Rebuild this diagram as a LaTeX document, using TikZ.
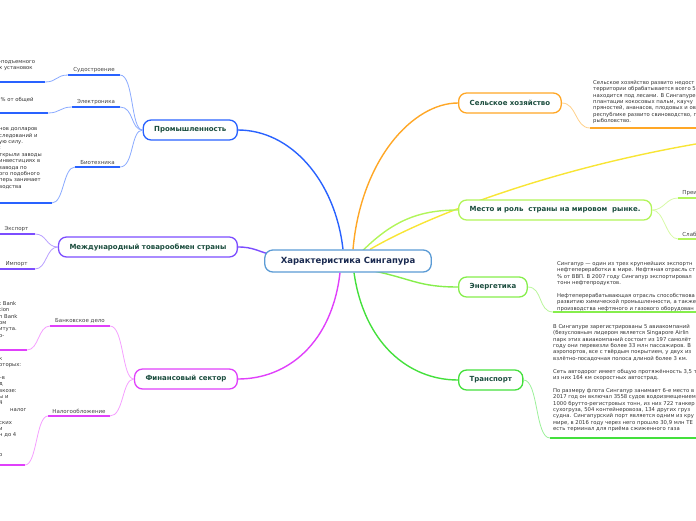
\documentclass[tikz,border=0pt]{standalone}
\usepackage{fontspec}
\setmainfont{DejaVu Sans}
\usetikzlibrary{positioning, calc, backgrounds}
\definecolor{rootblue}{HTML}{5B9BD5}
\definecolor{rootink}{HTML}{1A2A50}
\definecolor{topicink}{HTML}{1B4D3E}
\definecolor{leafgray}{HTML}{444444}
\definecolor{notegray}{HTML}{333333}
\definecolor{indblue}{HTML}{2962FF}
\definecolor{indlight}{HTML}{8AAAFF}
\definecolor{tradeviolet}{HTML}{7C4DFF}
\definecolor{tradelight}{HTML}{B9A0FF}
\definecolor{finmagenta}{HTML}{E040FB}
\definecolor{finlight}{HTML}{F5A0FF}
\definecolor{agrorange}{HTML}{FFA726}
\definecolor{agrlight}{HTML}{FFD089}
\definecolor{sunyellow}{HTML}{F8E535}
\definecolor{placelime}{HTML}{B2F55A}
\definecolor{placelight}{HTML}{D7F9A6}
\definecolor{energygreen}{HTML}{86EE4C}
\definecolor{energylight}{HTML}{B8F59A}
\definecolor{transgreen}{HTML}{44E03C}
\definecolor{translight}{HTML}{9CF09A}

\begin{document}
\begin{tikzpicture}[x=1pt, y=-1pt,
    every node/.style={font=\fontsize{5.3}{6.4}\selectfont},
    root/.style={draw=rootblue, line width=1.3pt, rounded corners=8pt, fill=white, text=rootink,
      font=\bfseries\fontsize{8.5}{10}\selectfont, minimum height=22pt, inner xsep=16pt},
    topic/.style={draw=#1, line width=1.3pt, rounded corners=8pt, fill=white, text=topicink,
      font=\bfseries\fontsize{7}{9}\selectfont, minimum height=20pt, inner xsep=11pt},
    branch/.style={draw=#1, line width=1.4pt},
    twig/.style={draw=#1, line width=0.8pt},
    stem/.style={draw=#1, line width=2.2pt},
    leaf/.style={above, text=leafgray, inner sep=1.2pt, font=\fontsize{5.5}{6.5}\selectfont},
    note/.style={text=notegray, align=left, inner sep=0pt, anchor=north west},
  ]
  \useasboundingbox (0,0) rectangle (696,520);
  \clip (0,0) rectangle (696,520);

  % centre and topics
  \node[root] (root) at (348,261) {Характеристика Сингапура};
  \node[topic=indblue, anchor=east] (ind) at (238,130) {Промышленность};
  \node[topic=tradeviolet, anchor=east] (trade) at (238,247) {Международный товарообмен страны};
  \node[topic=finmagenta, anchor=east] (fin) at (238,379) {Финансовый сектор};
  \node[topic=agrorange, anchor=west] (agr) at (458,103) {Сельское хозяйство};
  \node[topic=placelime, anchor=west] (place) at (458,210) {Место и роль\ \ страны на мировом\ \ рынке.};
  \node[topic=energygreen, anchor=west] (energy) at (458,287) {Энергетика};
  \node[topic=transgreen, anchor=west] (trans) at (458,380) {Транспорт};

  \coordinate (r-n) at ($(root.north)+(-5,0)$);
  \coordinate (r-o) at ($(root.north)+(5,0)$);
  \coordinate (r-l) at ($(root.north)+(14,2)$);
  \coordinate (r-y) at ($(root.north)+(22,0)$);
  \coordinate (r-w) at ($(root.west)+(8,-6)$);
  \coordinate (r-s) at ($(root.south)+(-8,0)$);
  \coordinate (r-t) at ($(root.south)+(6,0)$);
  \coordinate (r-e) at ($(root.south)+(24,-2)$);
  \coordinate (far) at (720,140);

  \begin{pgfonlayer}{background}
    \draw[branch=indblue] (r-n) .. controls +(-8,-70) and +(52,0) .. (ind.east);
    \draw[branch=tradeviolet] (r-w) .. controls +(-15,-4) and +(15,0) .. (trade.east);
    \draw[branch=finmagenta] (r-s) .. controls +(-8,70) and +(50,0) .. (fin.east);
    \draw[branch=agrorange] (r-o) .. controls +(8,-90) and +(-45,0) .. (agr.west);
    \draw[branch=sunyellow] (r-y) .. controls +(60,-35) and +(-160,25) .. (far);
    \draw[branch=placelime] (r-l) .. controls +(30,-30) and +(-40,0) .. (place.west);
    \draw[branch=energygreen] (r-e) .. controls +(40,8) and +(-40,0) .. (energy.west);
    \draw[branch=transgreen] (r-t) .. controls +(10,70) and +(-50,0) .. (trans.west);
  \end{pgfonlayer}

  % Промышленность
  \coordinate (sud-l) at (68,75);   \coordinate (sud-r) at (120,75);
  \coordinate (el-l) at (72,107);   \coordinate (el-r) at (120,107);
  \coordinate (bio-l) at (75,167);  \coordinate (bio-r) at (120,167);
  \draw[stem=indblue] (sud-l) -- node[leaf] (sud) {Судостроение} (sud-r);
  \draw[stem=indblue] (el-l) -- node[leaf] (el) {Электроника} (el-r);
  \draw[stem=indblue] (bio-l) -- node[leaf] (bio) {Биотехника} (bio-r);
  \foreach \t in {sud-r, el-r, bio-r}
    \draw[twig=indlight] (\t) .. controls +(14,0) and +(-12,0) .. (ind.west);

  \coordinate (sudn-l) at (-2,82);  \coordinate (sudn-r) at (45,82);
  \coordinate (eln-l) at (-2,113);  \coordinate (eln-r) at (48,113);
  \coordinate (bion-l) at (-2,203); \coordinate (bion-r) at (52,203);
  \draw[stem=indblue] (sudn-l) -- (sudn-r);
  \draw[stem=indblue] (eln-l) -- (eln-r);
  \draw[stem=indblue] (bion-l) -- (bion-r);
  \draw[twig=indlight] (sudn-r) .. controls +(12,0) and +(-12,0) .. (sud-l);
  \draw[twig=indlight] (eln-r) .. controls +(12,0) and +(-12,0) .. (el-l);
  \draw[twig=indlight] (bion-r) .. controls +(12,0) and +(-12,0) .. (bio-l);
  \node[note] (sudn) at (-1,60) {-подъемного\\х установок};
  \node[note] (eln) at (0.5,97) {\% от общей};
  \node[note] (bion) at (-1,127.5) {нов долларов\\следований и\\ую силу.\\:\\ткрыли заводы\\
    инвестициях в\\завода по\\ого подобного\\перь занимает\\водства};

  % Международный товарообмен
  \coordinate (exp-l) at (-2,234);  \coordinate (exp-r) at (35,234);
  \coordinate (imp-l) at (-2,269);  \coordinate (imp-r) at (35,269);
  \draw[stem=tradeviolet] (exp-l) -- node[leaf] (exp) {Экспорт} (exp-r);
  \draw[stem=tradeviolet] (imp-l) -- node[leaf] (imp) {Импорт} (imp-r);
  \foreach \t in {exp-r, imp-r}
    \draw[twig=tradelight] (\t) .. controls +(12,0) and +(-12,0) .. (trade.west);

  % Финансовый сектор
  \coordinate (bank-l) at (50,326); \coordinate (bank-r) at (110,326);
  \coordinate (tax-l) at (48,416);  \coordinate (tax-r) at (110,416);
  \draw[stem=finmagenta] (bank-l) -- node[leaf] (bank) {Банковское дело} (bank-r);
  \draw[stem=finmagenta] (tax-l) -- node[leaf] (tax) {Налогообложение} (tax-r);
  \foreach \t in {bank-r, tax-r}
    \draw[twig=finlight] (\t) .. controls +(14,0) and +(-12,0) .. (fin.west);
  \coordinate (bankn-l) at (-2,350); \coordinate (bankn-r) at (27,350);
  \coordinate (taxn-l) at (-2,465);  \coordinate (taxn-r) at (25,465);
  \draw[stem=finmagenta] (bankn-l) -- (bankn-r);
  \draw[stem=finmagenta] (taxn-l) -- (taxn-r);
  \draw[twig=finlight] (bankn-r) .. controls +(12,0) and +(-12,0) .. (bank-l);
  \draw[twig=finlight] (taxn-r) .. controls +(12,0) and +(-12,0) .. (tax-l);
  \node[note] (bankn) at (-1,301) {t Bank\\tion\\n Bank\\ом\\итута.\\о-};
  \node[note] (taxn) at (-1,357) {к\\оторых:\\[6.4pt]–в\\д\\вкозе:\\ы и\\4\\\hspace*{11pt}налог\\[6.4pt]
    ских\\и\\н до 4\\[12.8pt]о};

  % Сельское хозяйство
  \coordinate (agrn-l) at (590,128); \coordinate (agrn-r) at (700,128);
  \draw[stem=agrorange] (agrn-l) -- (agrn-r);
  \draw[twig=agrlight] (agr.east) .. controls +(15,0) and +(-15,0) .. (agrn-l);
  \node[note] (agrn) at (593,80) {Сельское хозяйство развито недост\\территории обрабатывается всего 5\\
    находится под лесами. В Сингапуре\\плантации кокосовых пальм, каучу\\пряностей, ананасов, плодовых и ов\\
    республике развито свиноводство, п\\рыболовство.};

  % Место и роль
  \coordinate (pro-l) at (678,198); \coordinate (pro-r) at (700,198);
  \coordinate (con-l) at (678,239); \coordinate (con-r) at (700,239);
  \draw[stem=placelime] (pro-l) -- (pro-r);
  \draw[stem=placelime] (con-l) -- (con-r);
  \node[leaf, anchor=south west] (pro) at (681,197) {Преи};
  \node[leaf, anchor=south west] (con) at (681,238) {Слаб};
  \foreach \t in {pro-l, con-l}
    \draw[twig=placelight] (place.east) .. controls +(12,0) and +(-12,0) .. (\t);

  % Энергетика
  \coordinate (engn-l) at (553,312); \coordinate (engn-r) at (700,312);
  \draw[stem=energygreen] (engn-l) -- (engn-r);
  \draw[twig=energylight] (energy.east) .. controls +(15,0) and +(-15,0) .. (engn-l);
  \node[note] (engn) at (557,261) {Сингапур — один из трех крупнейших экспортн\\
    нефтепереработки в мире. Нефтяная отрасль ст\\\% от ВВП. В 2007 году Сингапур экспортировал\\
    тонн нефтепродуктов.\\[6.4pt]Нефтеперерабатывающая отрасль способствова\\
    развитию химической промышленности, а также\\производства нефтяного и газового оборудован};

  % Транспорт
  \coordinate (trn-l) at (550,438); \coordinate (trn-r) at (700,438);
  \draw[stem=transgreen] (trn-l) -- (trn-r);
  \draw[twig=translight] (trans.east) .. controls +(15,0) and +(-15,0) .. (trn-l);
  \node[note] (trn) at (553,324) {В Сингапуре зарегистрированы 5 авиакомпаний\\
    (безусловным лидером является Singapore Airlin\\парк этих авиакомпаний состоит из 197 самолёт\\
    году они перевезли более 33 млн пассажиров. В\\аэропортов, все с твёрдым покрытием, у двух из\\
    взлётно-посадочная полоса длиной более 3 км.\\[6.4pt]
    Сеть автодорог имеет общую протяжённость 3,5 т\\из них 164 км скоростных автострад.\\[6.4pt]
    По размеру флота Сингапур занимает 6-е место в\\2017 год он включал 3558 судов водоизмещением\\
    1000 брутто-регистровых тонн, из них 722 танкер\\сухогруза, 504 контейнеровоза, 134 других груз\\
    судна. Сингапурский порт является одним из кру\\мире, в 2016 году через него прошло 30,9 млн ТЕ\\
    есть терминал для приёма сжиженного газа};
\end{tikzpicture}
\end{document}
